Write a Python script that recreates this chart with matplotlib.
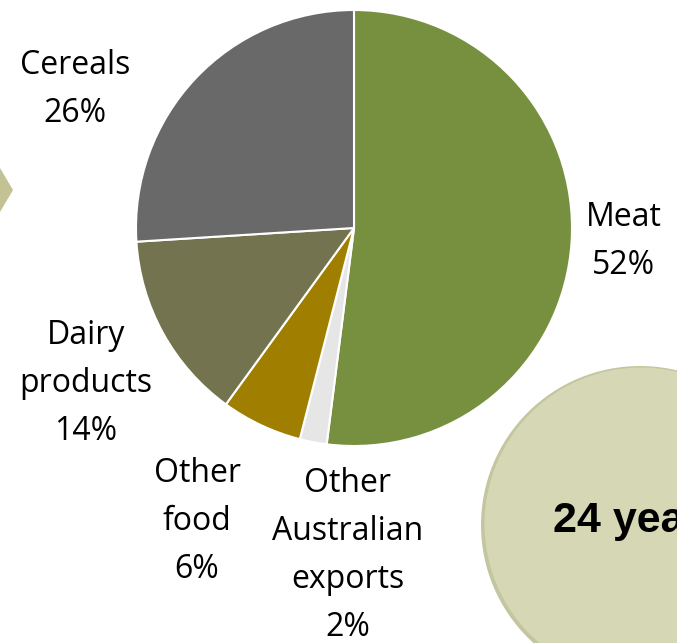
import matplotlib
matplotlib.use("Agg")
import matplotlib.pyplot as plt
from matplotlib.patches import Circle, Polygon

# Data
categories = ["Meat", "Other\nAustralian\nexports", "Other\nfood", "Dairy\nproducts", "Cereals"]
shares = [52, 2, 6, 14, 26]
colors = ["#77903f", "#e6e6e6", "#a07f00", "#73734f", "#696969"]

W, H = 677, 643
fig = plt.figure(figsize=(W / 100, H / 100), dpi=100)
ax = fig.add_axes([0, 0, 1, 1])

# decorative shapes
ax.add_patch(Polygon([(0, H - 168), (13, H - 190), (0, H - 212)], closed=True,
                     facecolor="#c2c294", edgecolor="none"))
ax.add_patch(Circle((640, H - 525), 159, facecolor="#c4c6a0", edgecolor="none", zorder=1))
ax.add_patch(Circle((641, H - 524), 156.5, facecolor="#d5d7b5", edgecolor="none", zorder=2))
ax.text(553, H - 532, "24 years", fontsize=31, fontweight="bold",
        family="Liberation Sans", ha="left", va="baseline", zorder=3)

# pie
ax.pie(shares, colors=colors, startangle=90, counterclock=False,
       center=(354, H - 228), radius=218, frame=True,
       wedgeprops=dict(edgecolor="white", linewidth=1.5))
ax.set_xlim(0, W)
ax.set_ylim(0, H)
ax.set_aspect("equal")
ax.axis("off")

# labels (centre of each text block)
label_pos = [(624, 242), (348, 555), (197, 522), (86, 383), (75, 90)]
for cat, val, (x, y) in zip(categories, shares, label_pos):
    ax.text(x, H - y, f"{cat}\n{val}%", fontsize=23, family="Open Sans",
            ha="center", va="center", linespacing=1.6)

fig.savefig("out.png", dpi=100)
